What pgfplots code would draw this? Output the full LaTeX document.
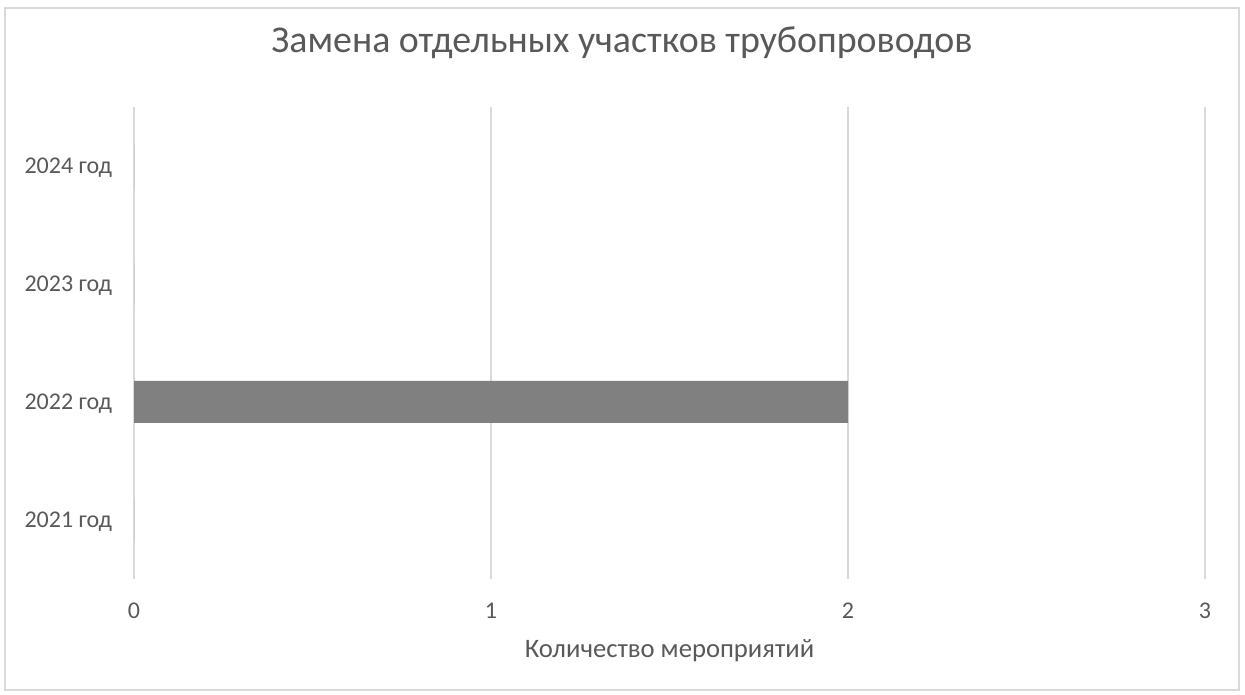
\documentclass[border=0pt]{standalone}
\usepackage{pgfplots}
\pgfplotsset{compat=1.18}
\usepackage{fontspec}
\setmainfont{Carlito}
\definecolor{txt}{HTML}{595959}
\definecolor{grd}{HTML}{D9D9D9}
\definecolor{barc}{HTML}{808080}
\begin{document}
\begin{tikzpicture}[x=0.75pt,y=0.75pt]
\path (0,0) rectangle (1245,695);
\draw[grd, line width=1.5pt] (5,5) rectangle (1239,687);
\node[txt, font=\fontsize{28.4}{33}\selectfont] at (622,652) {Замена отдельных участков трубопроводов};
\begin{axis}[
  at={(100.5pt,87pt)}, anchor=south west,
  scale only axis, width=803.25pt, height=354pt,
  xmin=0, xmax=3, ymin=-0.5, ymax=3.5,
  xtick={0,1,2,3}, ytick={0,1,2,3},
  yticklabels={2021 год,2022 год,2023 год,2024 год},
  xmajorgrids, major grid style={grd, line width=1.5pt},
  axis line style={draw=none}, major tick style={draw=none},
  tick label style={txt, font=\fontsize{18}{21}\selectfont},
  /pgf/number format/assume math mode=true,
  xticklabel style={anchor=center, yshift=-24pt, inner sep=0pt},
  yticklabel style={anchor=east, xshift=-12pt, yshift=-1.5pt, inner sep=0pt},
  xbar, bar width=31.5pt,
  xlabel={Количество мероприятий},
  xlabel style={txt, font=\fontsize{20}{24}\selectfont, anchor=center, at={(axis description cs:0.5,0)}, yshift=-54pt},
  clip=false,
]
\addplot[fill=barc, draw=none, bar shift=0pt] coordinates {(0,0) (2,1) (0,2) (0,3)};
\end{axis}
\end{tikzpicture}
\end{document}
